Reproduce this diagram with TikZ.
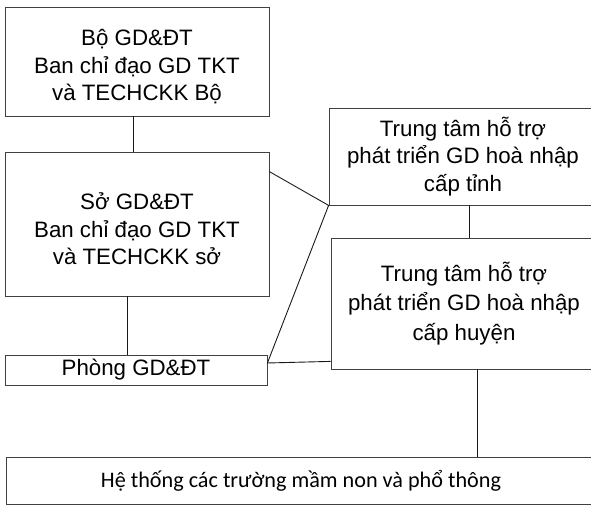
\documentclass[tikz,border=0pt]{standalone}
\usepackage{fontspec}
\setmainfont{Liberation Sans}
\newfontfamily\hefont{Carlito}
\usepackage{tikz}
\usetikzlibrary{positioning}
\usetikzlibrary{calc}
\tikzset{box/.style={draw=black!75, line width=0.8pt, rectangle, align=center, inner sep=0pt, font=\fontsize{22.3}{27.5}\selectfont}}
\tikzset{link/.style={draw=black!90, line width=0.9pt}}
\begin{document}
\begin{tikzpicture}[x=1pt, y=1pt]
\useasboundingbox (0,0) rectangle (591,505);
\node[box, minimum width=264pt, minimum height=109pt] (bo) at (137,443.5) {\rule{0pt}{27pt}Bộ GD\&ĐT\\Ban chỉ đạo GD TKT\\và TECHCKK Bộ};
\node[box, minimum width=264pt, minimum height=144pt] (so) at (137,281) {\rule{0pt}{27pt}Sở GD\&ĐT\\Ban chỉ đạo GD TKT\\và TECHCKK sở};
\node[box, minimum width=262pt, minimum height=30pt] (phong) at (136,135) {Phòng GD\&ĐT};
\node[box, minimum width=268pt, minimum height=97pt] (tinh) at (463,348.5) {Trung tâm hỗ trợ\\phát triển GD hoà nhập\\cấp tỉnh};
\node[box, minimum width=266pt, minimum height=131pt, font=\fontsize{22.3}{29.5}\selectfont] (huyen) at (464,201.5) {Trung tâm hỗ trợ\\phát triển GD hoà nhập\\cấp huyện};
\node[box, minimum width=590pt, minimum height=47pt, font=\hefont\fontsize{22.2}{27}\selectfont] (he) at (301,24.5) {Hệ thống các trường mầm non và phổ thông};

\draw[link] ([xshift=-4pt]bo.south) -- ([xshift=-4pt]so.north);
\draw[link] ([xshift=-10pt]so.south) -- ([xshift=-10pt]so.south |- phong.north);
\draw[link] ([xshift=6pt]tinh.south) -- ([xshift=6pt]tinh.south |- huyen.north);
\draw[link] ([xshift=13pt]huyen.south) -- ([xshift=13pt]huyen.south |- he.north);
\draw[link] ([yshift=-20pt]so.north east) -- (tinh.south west) -- ([yshift=7pt]phong.east) -- ([yshift=8pt]huyen.south west);
\end{tikzpicture}
\end{document}
